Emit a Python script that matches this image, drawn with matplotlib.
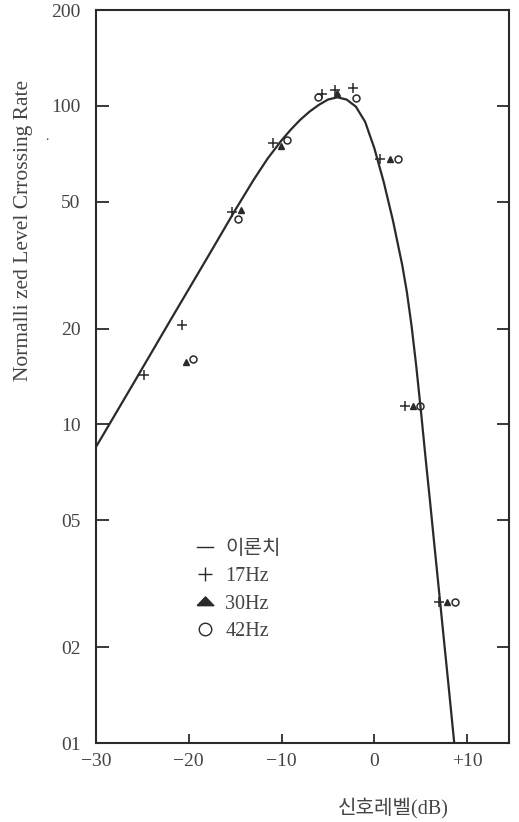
import matplotlib
matplotlib.use("Agg")
import matplotlib.pyplot as plt
from matplotlib.lines import Line2D

# ---- data ----
theory_x = [-30, -26, -22, -18, -15, -13, -11.5, -10, -9, -8, -7, -6, -5, -4, -3,
            -2, -1, 0, 1, 2, 3, 3.5, 4, 4.5, 5, 5.5, 6, 6.5, 7, 7.5, 8, 8.6]
theory_y = [8.5, 13.4, 21.2, 33.4, 47.1, 58.7, 68.4, 78.0, 84.3, 90.4, 95.9, 100.7,
            104.7, 106.4, 104.7, 99.5, 89.1, 73.5, 57.7, 43.6, 31.6, 26.0, 20.4,
            15.3, 11.1, 7.9, 5.7, 4.07, 2.92, 2.09, 1.50, 1.0]

hz17_x = [-24.8, -20.7, -15.3, -10.9, -5.6, -4.2, -2.3, 0.6, 3.3, 7.0]
hz17_y = [14.3, 20.5, 46.5, 76.5, 109, 112, 114, 68.2, 11.4, 2.77]

hz30_x = [-20.3, -14.4, -10.1, -4.0, 1.7, 4.2, 7.8]
hz30_y = [15.7, 47.2, 75, 110, 68.2, 11.4, 2.77]

hz42_x = [-19.6, -14.7, -9.4, -6.1, -2.0, 2.5, 4.9, 8.7]
hz42_y = [16.0, 44.3, 78, 107, 106, 68.2, 11.4, 2.77]

xticks = [-30, -20, -10, 0, 10]
xtick_labels = ["\u221230", "\u221220", "\u221210", "0", "+10"]
yticks = [1, 2, 5, 10, 20, 50, 100, 200]
ytick_labels = ["01", "02", "05", "10", "20", "50", "100", "200"]

legend_labels = ["이론치", "17Hz", "30Hz", "42Hz"]
xlabel = "신호레벨(dB)"
ylabel = "Normalli zed Level Crrossing Rate"

# ---- figure ----
W, H = 519, 822
fig = plt.figure(figsize=(W / 100, H / 100), dpi=100)
ax = fig.add_axes([96 / W, 1 - 743 / H, (509 - 96) / W, (743 - 10) / H])
ax.set_yscale("log")
ax.set_xlim(-30, 14.5)
ax.set_ylim(1, 200)

fam = ["Liberation Serif", "Noto Sans CJK KR"]
col = "#2a2a2a"
tcol = "#444444"

ax.plot(theory_x, theory_y, color=col, lw=1.6, zorder=3)
ax.plot(hz17_x, hz17_y, ls="none", marker="+", ms=7, mew=1.1, color=col, zorder=4)
ax.plot(hz30_x, hz30_y, ls="none", marker="^", ms=5, color=col, zorder=4)
ax.plot(hz42_x, hz42_y, ls="none", marker="o", ms=5, mfc="none", mew=1.1, color=col, zorder=4)

ax.set_xticks(xticks)
ax.set_xticklabels(xtick_labels)
ax.set_yticks(yticks)
ax.set_yticklabels(ytick_labels)
ax.minorticks_off()
ax.tick_params(axis="y", which="major", direction="in", length=9, width=1.3,
               right=True, labelsize=14, pad=11, colors=col)
ax.tick_params(axis="x", which="major", direction="in", length=6.5, width=1.3,
               labelsize=14, pad=7, colors=col)
for lab in ax.get_xticklabels() + ax.get_yticklabels():
    lab.set_family(fam)
    lab.set_color(tcol)
for s in ax.spines.values():
    s.set_linewidth(1.5)
    s.set_color(col)

wide_tri = [(-1, -0.5), (1, -0.5), (0, 0.55), (-1, -0.5)]
handles = [
    Line2D([], [], color=col, lw=1.0),
    Line2D([], [], ls="none", marker="+", ms=10, mew=1.0, color=col),
    Line2D([], [], ls="none", marker=wide_tri, ms=12, color=col),
    Line2D([], [], ls="none", marker="o", ms=9, mfc="none", mew=1.0, color=col),
]
leg = ax.legend(handles, legend_labels, loc="upper left",
                bbox_to_anchor=((181 - 96) / 413, (743 - 524) / 733),
                frameon=False, handlelength=0.8, handletextpad=0.6,
                labelspacing=0.40, borderpad=0.3,
                prop={"family": fam, "size": 14.5})
for t in leg.get_texts():
    t.set_color(tcol)

fig.text(393 / W, 1 - 808 / H, xlabel, ha="center", va="center",
         family=fam, fontsize=14.5, color=tcol)
fig.text(24 / W, 1 - 230 / H, ylabel, ha="center", va="center", rotation=90,
         family=fam, fontsize=15.5, color=tcol)
fig.text(47 / W, 1 - 137 / H, ".", ha="center", va="center",
         family=fam, fontsize=10, color=tcol)

fig.savefig("out.png", dpi=100)
